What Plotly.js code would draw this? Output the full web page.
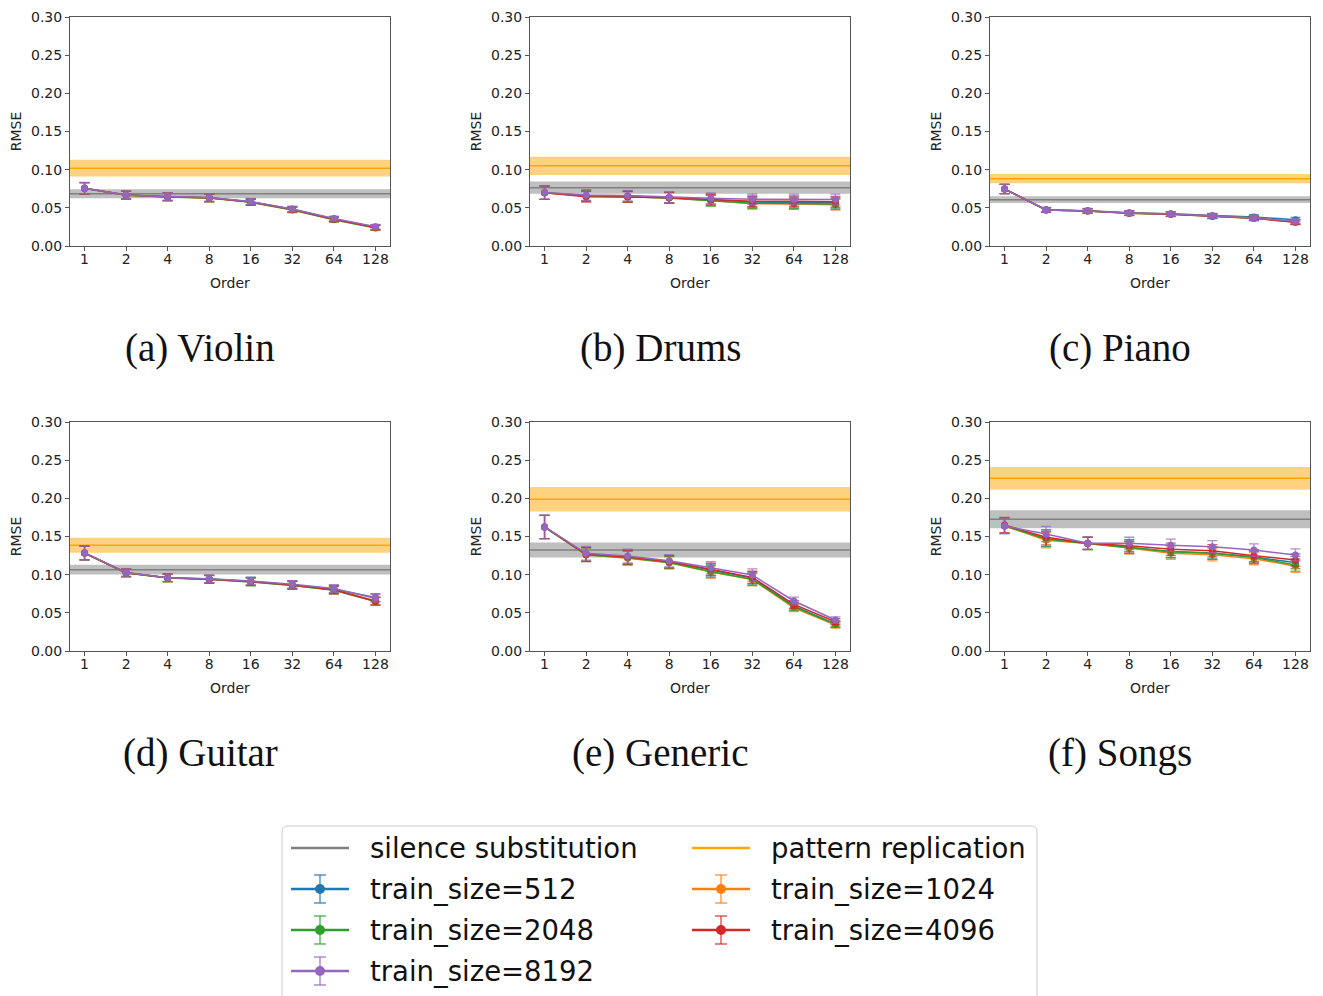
<!DOCTYPE html>
<html>
<head>
<meta charset="utf-8">
<script src="https://cdn.plot.ly/plotly-3.0.1.min.js"></script>
<style>html,body{margin:0;padding:0;background:#fff;}#chart{width:1323px;height:996px;}</style>
</head>
<body>
<div id="chart"></div>
<script>
// ---------------- data ----------------
const orders = ['1', '2', '4', '8', '16', '32', '64', '128'];
const panelNames = ['Violin', 'Drums', 'Piano', 'Guitar', 'Generic', 'Songs'];
const captions = ['(a) Violin', '(b) Drums', '(c) Piano', '(d) Guitar', '(e) Generic', '(f) Songs'];
const trainSizes = ['512', '1024', '2048', '4096', '8192'];
const legendLabels = ['silence substitution', 'pattern replication', 'train_size=512', 'train_size=1024', 'train_size=2048', 'train_size=4096', 'train_size=8192'];

const silenceMean = [0.0685, 0.0764, 0.0607, 0.1066, 0.1323, 0.1725];
const silenceStd  = [0.0060, 0.0080, 0.0045, 0.0065, 0.0098, 0.0118];
const patternMean = [0.1020, 0.1050, 0.0882, 0.1385, 0.1987, 0.2262];
const patternStd  = [0.0110, 0.0120, 0.0060, 0.0098, 0.0160, 0.0150];

const violin512  = [0.0756, 0.0668, 0.0646, 0.0633, 0.0580, 0.0482, 0.0355, 0.0248];
const violin1024 = [0.0756, 0.0666, 0.0644, 0.0630, 0.0575, 0.0476, 0.0348, 0.0240];
const violin2048 = [0.0755, 0.0665, 0.0643, 0.0628, 0.0572, 0.0472, 0.0344, 0.0236];
const violin4096 = [0.0756, 0.0667, 0.0645, 0.0631, 0.0576, 0.0478, 0.0350, 0.0242];
const violin8192 = [0.0757, 0.0669, 0.0647, 0.0634, 0.0582, 0.0486, 0.0360, 0.0252];
const violinErr  = [0.0075, 0.0050, 0.0050, 0.0050, 0.0040, 0.0035, 0.0030, 0.0030];

const drums512  = [0.0699, 0.0660, 0.0650, 0.0635, 0.0605, 0.0575, 0.0570, 0.0565];
const drums1024 = [0.0698, 0.0655, 0.0645, 0.0630, 0.0595, 0.0555, 0.0550, 0.0540];
const drums2048 = [0.0698, 0.0655, 0.0645, 0.0630, 0.0594, 0.0560, 0.0558, 0.0550];
const drums4096 = [0.0699, 0.0645, 0.0642, 0.0632, 0.0610, 0.0585, 0.0585, 0.0580];
const drums8192 = [0.0700, 0.0668, 0.0660, 0.0638, 0.0624, 0.0611, 0.0610, 0.0610];
const drumsErr  = [0.0087, 0.0070, 0.0070, 0.0070, 0.0070, 0.0070, 0.0070, 0.0070];

const piano512  = [0.0747, 0.0475, 0.0462, 0.0434, 0.0421, 0.0396, 0.0380, 0.0345];
const piano1024 = [0.0747, 0.0472, 0.0459, 0.0431, 0.0418, 0.0392, 0.0366, 0.0318];
const piano2048 = [0.0747, 0.0472, 0.0458, 0.0430, 0.0417, 0.0391, 0.0364, 0.0315];
const piano4096 = [0.0747, 0.0471, 0.0457, 0.0429, 0.0416, 0.0390, 0.0362, 0.0310];
const piano8192 = [0.0747, 0.0472, 0.0459, 0.0432, 0.0419, 0.0393, 0.0367, 0.0323];
const pianoErr  = [0.0060, 0.0030, 0.0030, 0.0030, 0.0030, 0.0030, 0.0030, 0.0030];

const guitar512  = [0.1284, 0.1026, 0.0960, 0.0943, 0.0913, 0.0869, 0.0808, 0.0700];
const guitar1024 = [0.1284, 0.1024, 0.0958, 0.0940, 0.0908, 0.0862, 0.0800, 0.0660];
const guitar2048 = [0.1284, 0.1023, 0.0957, 0.0938, 0.0905, 0.0858, 0.0795, 0.0648];
const guitar4096 = [0.1284, 0.1025, 0.0959, 0.0941, 0.0910, 0.0865, 0.0803, 0.0652];
const guitar8192 = [0.1285, 0.1027, 0.0961, 0.0945, 0.0916, 0.0873, 0.0818, 0.0690];
const guitarErr  = [0.0090, 0.0050, 0.0050, 0.0050, 0.0050, 0.0050, 0.0050, 0.0050];

const generic512  = [0.1625, 0.1265, 0.1225, 0.1165, 0.1060, 0.0955, 0.0590, 0.0355];
const generic1024 = [0.1624, 0.1260, 0.1215, 0.1155, 0.1035, 0.0935, 0.0565, 0.0340];
const generic2048 = [0.1624, 0.1262, 0.1220, 0.1160, 0.1040, 0.0940, 0.0580, 0.0350];
const generic4096 = [0.1625, 0.1268, 0.1230, 0.1170, 0.1070, 0.0965, 0.0610, 0.0384];
const generic8192 = [0.1626, 0.1280, 0.1245, 0.1183, 0.1090, 0.0996, 0.0655, 0.0406];
const genericErr  = [0.0153, 0.0090, 0.0090, 0.0080, 0.0080, 0.0080, 0.0050, 0.0040];

const songs512  = [0.1638, 0.1470, 0.1410, 0.1360, 0.1305, 0.1285, 0.1230, 0.1160];
const songs1024 = [0.1640, 0.1450, 0.1408, 0.1350, 0.1280, 0.1260, 0.1210, 0.1110];
const songs2048 = [0.1640, 0.1467, 0.1409, 0.1359, 0.1301, 0.1280, 0.1228, 0.1127];
const songs4096 = [0.1650, 0.1490, 0.1411, 0.1380, 0.1332, 0.1314, 0.1249, 0.1192];
const songs8192 = [0.1638, 0.1533, 0.1412, 0.1410, 0.1385, 0.1367, 0.1323, 0.1258];
const songsErr  = [0.0100, 0.0100, 0.0080, 0.0080, 0.0080, 0.0080, 0.0080, 0.0080];

// ---------------- assembly ----------------
const panelSeries = [
  [violin512, violin1024, violin2048, violin4096, violin8192],
  [drums512, drums1024, drums2048, drums4096, drums8192],
  [piano512, piano1024, piano2048, piano4096, piano8192],
  [guitar512, guitar1024, guitar2048, guitar4096, guitar8192],
  [generic512, generic1024, generic2048, generic4096, generic8192],
  [songs512, songs1024, songs2048, songs4096, songs8192]
];
const panelErr = [violinErr, drumsErr, pianoErr, guitarErr, genericErr, songsErr];

const W = 1323, H = 996;
const px = x => x / W;
const py = y => 1 - y / H;

const seriesColors = ['#1f77b4', '#ff7f0e', '#2ca02c', '#d62728', '#9467bd'];
const errColors = ['rgba(31,119,180,0.75)', 'rgba(255,127,14,0.75)', 'rgba(44,160,44,0.75)', 'rgba(214,39,40,0.75)', 'rgba(148,103,189,0.75)'];
const colLeft = [70, 530, 990];
const rowTop = [17, 422];
const plotW = 320, plotH = 229;
const textFont = 'DejaVu Sans, Arial, sans-serif';

const traces = [];
const shapes = [];
const annotations = [];
const layout = {
  width: W, height: H,
  margin: {l: 0, r: 0, t: 0, b: 0},
  paper_bgcolor: '#fff', plot_bgcolor: '#fff',
  showlegend: false,
  font: {family: textFont, size: 14, color: '#222'}
};

const xIdx = orders.map((_, i) => i);

for (let p = 0; p < 6; p++) {
  const row = Math.floor(p / 3), col = p % 3;
  const n = p + 1;
  const xa = 'x' + (n === 1 ? '' : n), ya = 'y' + (n === 1 ? '' : n);
  const xKey = 'xaxis' + (n === 1 ? '' : n), yKey = 'yaxis' + (n === 1 ? '' : n);
  const l = colLeft[col], t = rowTop[row];
  layout[xKey] = {
    domain: [px(l), px(l + plotW)], anchor: ya,
    range: [-0.35, 7.35], tickvals: xIdx, ticktext: orders,
    showgrid: false, zeroline: false, showline: true, mirror: true,
    linecolor: '#555', linewidth: 1, ticks: 'outside', ticklen: 4, tickcolor: '#555',
    ticklabelstandoff: -4,
    tickfont: {size: 14, color: '#222'},
    title: {text: 'Order', font: {size: 14, color: '#222'}, standoff: 12}
  };
  layout[yKey] = {
    domain: [py(t + plotH), py(t)], anchor: xa,
    range: [0, 0.30], dtick: 0.05, tick0: 0, tickformat: '.2f',
    showgrid: false, zeroline: false, showline: true, mirror: true,
    linecolor: '#555', linewidth: 1, ticks: 'outside', ticklen: 4, tickcolor: '#555',
    tickfont: {size: 14, color: '#222'},
    title: {text: 'RMSE', font: {size: 14, color: '#222'}, standoff: 6}
  };
  // silence substitution band + line
  shapes.push({type: 'rect', xref: xa + ' domain', yref: ya, x0: 0, x1: 1,
    y0: silenceMean[p] - silenceStd[p], y1: silenceMean[p] + silenceStd[p],
    fillcolor: 'rgba(128,128,128,0.5)', line: {width: 0}, layer: 'below'});
  shapes.push({type: 'line', xref: xa + ' domain', yref: ya, x0: 0, x1: 1,
    y0: silenceMean[p], y1: silenceMean[p], line: {color: '#808080', width: 1.5}, layer: 'below'});
  // pattern replication band + line
  shapes.push({type: 'rect', xref: xa + ' domain', yref: ya, x0: 0, x1: 1,
    y0: patternMean[p] - patternStd[p], y1: patternMean[p] + patternStd[p],
    fillcolor: 'rgba(255,165,0,0.5)', line: {width: 0}, layer: 'below'});
  shapes.push({type: 'line', xref: xa + ' domain', yref: ya, x0: 0, x1: 1,
    y0: patternMean[p], y1: patternMean[p], line: {color: '#ffa500', width: 1.5}, layer: 'below'});

  for (let s = 0; s < 5; s++) {
    traces.push({
      type: 'scatter', mode: 'lines+markers', xaxis: xa, yaxis: ya,
      name: 'train_size=' + trainSizes[s],
      x: xIdx, y: panelSeries[p][s],
      line: {color: seriesColors[s], width: 1.5},
      marker: {color: seriesColors[s], size: 7},
      error_y: {type: 'data', array: panelErr[p], visible: true, color: errColors[s], thickness: 1.3, width: 5},
      hoverinfo: 'x+y'
    });
  }
  // caption
  annotations.push({
    xref: 'paper', yref: 'paper', x: px(l + plotW / 2 - 30), y: py(t + 331),
    xanchor: 'center', yanchor: 'middle', showarrow: false,
    text: captions[p], font: {family: 'Liberation Serif, Times New Roman, serif', size: 39, color: '#111'}
  });
}

// ---------------- legend (drawn) ----------------
const legBox = {x0: 282, x1: 1037, y0: 826, y1: 1010, r: 6};
shapes.push({type: 'path', xref: 'paper', yref: 'paper',
  path: 'M ' + px(legBox.x0 + legBox.r) + ',' + py(legBox.y0) +
        ' L ' + px(legBox.x1 - legBox.r) + ',' + py(legBox.y0) +
        ' Q ' + px(legBox.x1) + ',' + py(legBox.y0) + ' ' + px(legBox.x1) + ',' + py(legBox.y0 + legBox.r) +
        ' L ' + px(legBox.x1) + ',' + py(legBox.y1) +
        ' L ' + px(legBox.x0) + ',' + py(legBox.y1) +
        ' L ' + px(legBox.x0) + ',' + py(legBox.y0 + legBox.r) +
        ' Q ' + px(legBox.x0) + ',' + py(legBox.y0) + ' ' + px(legBox.x0 + legBox.r) + ',' + py(legBox.y0) + ' Z',
  fillcolor: 'rgba(255,255,255,0.8)', line: {color: '#cccccc', width: 1}, layer: 'above'});

const legCols = [320, 721];
const legRows = [848, 889, 930, 971];
const legEntries = [
  {label: legendLabels[0], color: '#808080', kind: 'line', c: 0, r: 0},
  {label: legendLabels[1], color: '#ffa500', kind: 'line', c: 1, r: 0},
  {label: legendLabels[2], color: seriesColors[0], err: errColors[0], kind: 'err', c: 0, r: 1},
  {label: legendLabels[3], color: seriesColors[1], err: errColors[1], kind: 'err', c: 1, r: 1},
  {label: legendLabels[4], color: seriesColors[2], err: errColors[2], kind: 'err', c: 0, r: 2},
  {label: legendLabels[5], color: seriesColors[3], err: errColors[3], kind: 'err', c: 1, r: 2},
  {label: legendLabels[6], color: seriesColors[4], err: errColors[4], kind: 'err', c: 0, r: 3}
];
legEntries.forEach(e => {
  const cx = legCols[e.c], cy = legRows[e.r];
  shapes.push({type: 'line', xref: 'paper', yref: 'paper', x0: px(cx - 29), x1: px(cx + 29), y0: py(cy), y1: py(cy),
    line: {color: e.color, width: 2.5}, layer: 'above'});
  if (e.kind === 'err') {
    shapes.push({type: 'line', xref: 'paper', yref: 'paper', x0: px(cx), x1: px(cx), y0: py(cy - 14), y1: py(cy + 14),
      line: {color: e.err, width: 1.5}, layer: 'above'});
    shapes.push({type: 'line', xref: 'paper', yref: 'paper', x0: px(cx - 6), x1: px(cx + 6), y0: py(cy - 14), y1: py(cy - 14),
      line: {color: e.err, width: 1.5}, layer: 'above'});
    shapes.push({type: 'line', xref: 'paper', yref: 'paper', x0: px(cx - 6), x1: px(cx + 6), y0: py(cy + 14), y1: py(cy + 14),
      line: {color: e.err, width: 1.5}, layer: 'above'});
    shapes.push({type: 'circle', xref: 'paper', yref: 'paper', x0: px(cx - 5), x1: px(cx + 5), y0: py(cy + 5), y1: py(cy - 5),
      fillcolor: e.color, line: {color: e.color, width: 0}, layer: 'above'});
  }
  annotations.push({xref: 'paper', yref: 'paper', x: px(cx + 48), y: py(cy), xanchor: 'left', yanchor: 'middle',
    showarrow: false, text: e.label, font: {family: textFont, size: 27.5, color: '#111'}});
});

layout.shapes = shapes;
layout.annotations = annotations;

Plotly.newPlot('chart', traces, layout, {staticPlot: true, displayModeBar: false});
</script>
</body>
</html>
